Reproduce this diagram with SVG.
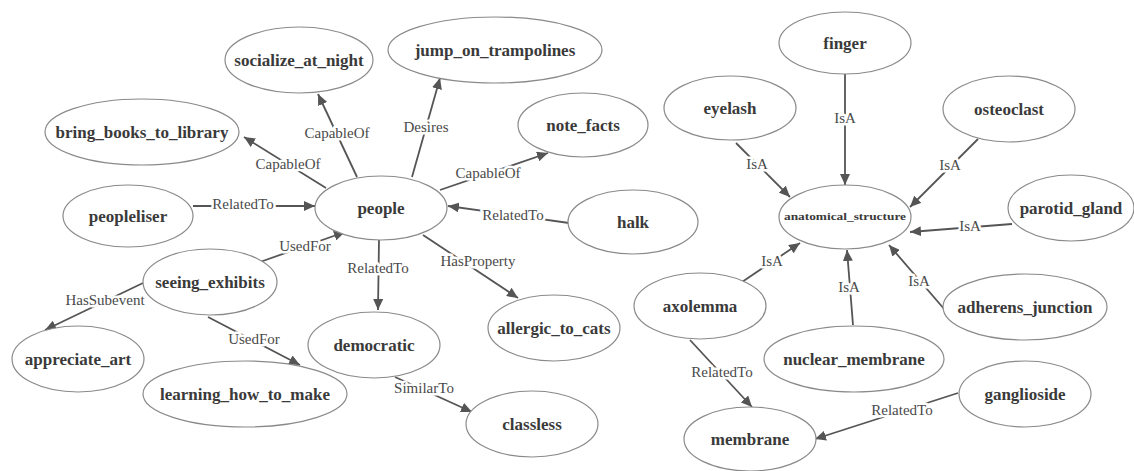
<svg xmlns="http://www.w3.org/2000/svg" width="1134" height="471" viewBox="0 0 1134 471">
<style>
.n ellipse{fill:#fff;stroke:#8a8a8a;stroke-width:1.2}
.n text{font-family:"Liberation Serif",serif;font-weight:bold;font-size:17px;fill:#3a3a3a;text-anchor:middle}
.e line{stroke:#555;stroke-width:1.8;marker-end:url(#ah)}
.e text{font-family:"Liberation Serif",serif;font-size:15px;fill:#4a4a4a;text-anchor:middle;stroke:#fff;stroke-width:5;paint-order:stroke;stroke-linejoin:round}
</style>
<defs>
<marker id="ah" markerWidth="12" markerHeight="10" refX="11" refY="5" orient="auto" markerUnits="userSpaceOnUse">
<path d="M0,0 L11,5 L0,10 z" fill="#555"/>
</marker>
</defs>
<rect width="1134" height="471" fill="#fff"/>
<g id="connectors" class="e">
<line x1="357" y1="177" x2="318" y2="94"/><text x="337" y="138">CapableOf</text>
<line x1="326" y1="188" x2="244" y2="137"/><text x="288" y="169">CapableOf</text>
<line x1="193" y1="206" x2="315" y2="206"/><text x="243" y="209">RelatedTo</text>
<line x1="412" y1="177" x2="440" y2="78"/><text x="426" y="132">Desires</text>
<line x1="440" y1="190" x2="548" y2="153"/><text x="488" y="178">CapableOf</text>
<line x1="569" y1="223" x2="448" y2="206"/><text x="513" y="220">RelatedTo</text>
<line x1="260" y1="262" x2="345" y2="232"/><text x="305" y="251">UsedFor</text>
<line x1="379" y1="240" x2="378" y2="310"/><text x="378" y="273">RelatedTo</text>
<line x1="423" y1="235" x2="518" y2="298"/><text x="478" y="266">HasProperty</text>
<line x1="143" y1="283" x2="45" y2="330"/><text x="105" y="305">HasSubevent</text>
<line x1="208" y1="317" x2="300" y2="365"/><text x="254" y="344">UsedFor</text>
<line x1="395" y1="377" x2="472" y2="412"/><text x="424" y="393">SimilarTo</text>
<line x1="736" y1="143" x2="790" y2="197"/><text x="757" y="169">IsA</text>
<line x1="845" y1="74" x2="845" y2="185"/><text x="845" y="123">IsA</text>
<line x1="978" y1="139" x2="910" y2="207"/><text x="950" y="170">IsA</text>
<line x1="1012" y1="224" x2="910" y2="232"/><text x="970" y="231">IsA</text>
<line x1="742" y1="282" x2="800" y2="243"/><text x="772" y="266">IsA</text>
<line x1="853" y1="325" x2="847" y2="250"/><text x="849" y="292">IsA</text>
<line x1="945" y1="310" x2="889" y2="245"/><text x="919" y="286">IsA</text>
<line x1="690" y1="340" x2="752" y2="407"/><text x="722" y="377">RelatedTo</text>
<line x1="958" y1="393" x2="815" y2="439"/><text x="902" y="415">RelatedTo</text>
</g>
<g id="socialize_at_night" class="n"><ellipse cx="299" cy="60" rx="74" ry="33"/><text x="299" y="66">socialize_at_night</text></g>
<g id="bring_books_to_library" class="n"><ellipse cx="142" cy="132" rx="97" ry="33"/><text x="142" y="138">bring_books_to_library</text></g>
<g id="peopleliser" class="n"><ellipse cx="128" cy="216" rx="65" ry="31"/><text x="128" y="222">peopleliser</text></g>
<g id="people" class="n"><ellipse cx="381" cy="208" rx="66" ry="32"/><text x="381" y="214">people</text></g>
<g id="jump_on_trampolines" class="n"><ellipse cx="495" cy="50" rx="107" ry="33"/><text x="495" y="56">jump_on_trampolines</text></g>
<g id="note_facts" class="n"><ellipse cx="583" cy="125" rx="65" ry="32"/><text x="583" y="131">note_facts</text></g>
<g id="halk" class="n"><ellipse cx="633" cy="222" rx="65" ry="32"/><text x="633" y="228">halk</text></g>
<g id="seeing_exhibits" class="n"><ellipse cx="210" cy="282" rx="67" ry="33"/><text x="210" y="288">seeing_exhibits</text></g>
<g id="appreciate_art" class="n"><ellipse cx="78" cy="359" rx="66" ry="33"/><text x="78" y="365">appreciate_art</text></g>
<g id="learning_how_to_make" class="n"><ellipse cx="245" cy="394" rx="102" ry="33"/><text x="245" y="400">learning_how_to_make</text></g>
<g id="democratic" class="n"><ellipse cx="374" cy="345" rx="66" ry="33"/><text x="374" y="351">democratic</text></g>
<g id="allergic_to_cats" class="n"><ellipse cx="554" cy="328" rx="66" ry="33"/><text x="554" y="334">allergic_to_cats</text></g>
<g id="classless" class="n"><ellipse cx="532" cy="424" rx="66" ry="33"/><text x="532" y="430">classless</text></g>
<g id="finger" class="n"><ellipse cx="845" cy="43" rx="66" ry="31"/><text x="845" y="49">finger</text></g>
<g id="eyelash" class="n"><ellipse cx="730" cy="108" rx="66" ry="32"/><text x="730" y="114">eyelash</text></g>
<g id="osteoclast" class="n"><ellipse cx="1009" cy="109" rx="66" ry="33"/><text x="1009" y="115">osteoclast</text></g>
<g id="parotid_gland" class="n"><ellipse cx="1071" cy="208" rx="63" ry="33"/><text x="1071" y="214">parotid_gland</text></g>
<g id="anatomical_structure" class="n"><ellipse cx="845" cy="217" rx="66" ry="32"/><text x="845" y="220" style="font-size:11px" textLength="122" lengthAdjust="spacingAndGlyphs">anatomical_structure</text></g>
<g id="axolemma" class="n"><ellipse cx="700" cy="306" rx="66" ry="33"/><text x="700" y="312">axolemma</text></g>
<g id="nuclear_membrane" class="n"><ellipse cx="854" cy="359" rx="90" ry="33"/><text x="854" y="365">nuclear_membrane</text></g>
<g id="adherens_junction" class="n"><ellipse cx="1025" cy="307" rx="82" ry="33"/><text x="1025" y="313">adherens_junction</text></g>
<g id="ganglioside" class="n"><ellipse cx="1025" cy="394" rx="66" ry="33"/><text x="1025" y="400">ganglioside</text></g>
<g id="membrane" class="n"><ellipse cx="750" cy="439" rx="66" ry="32"/><text x="750" y="445">membrane</text></g>
</svg>
